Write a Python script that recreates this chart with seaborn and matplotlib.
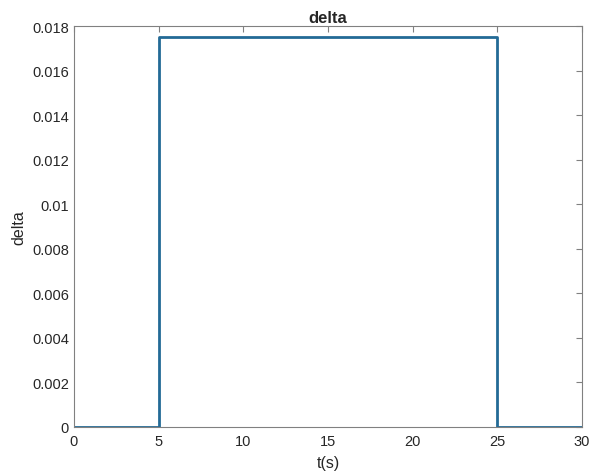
import numpy as np
import matplotlib
matplotlib.use("Agg")
import matplotlib.pyplot as plt
import seaborn as sns

# step signal
t = [0, 5, 5, 25, 25, 30]
delta = [0, 0, 0.0175, 0.0175, 0, 0]
xticks = [0, 5, 10, 15, 20, 25, 30]
yticks = [0, 0.002, 0.004, 0.006, 0.008, 0.01, 0.012, 0.014, 0.016, 0.018]

sns.set_style("white")
plt.rcParams['font.family'] = ['Liberation Sans', 'DejaVu Sans']

fig = plt.figure(figsize=(5.91, 4.77), dpi=100)
ax = fig.add_axes([0.125, 0.103, 0.86, 0.84])

sns.lineplot(x=t, y=delta, estimator=None, sort=False, ax=ax,
             color='#236a96', linewidth=2)

ax.set_xlim(0, 30)
ax.set_ylim(0, 0.018)
ax.set_xticks(xticks)
ax.set_yticks(yticks)
ax.set_xticklabels([f"{v:g}" for v in xticks])
ax.set_yticklabels([f"{v:g}" for v in yticks])
ax.tick_params(direction='in', length=4, width=0.8, colors='#808080',
               labelcolor='#262626', labelsize=10.5, top=True, right=True)
ax.tick_params(axis='x', pad=5)
for s in ax.spines.values():
    s.set_color('#808080')
    s.set_linewidth(0.8)

ax.set_title("delta", fontsize=12, fontweight='bold', pad=3)
ax.set_xlabel("t(s)", fontsize=11.5, labelpad=5)
ax.set_ylabel("delta", fontsize=11.5, labelpad=4)

fig.savefig("out.png", dpi=100)
